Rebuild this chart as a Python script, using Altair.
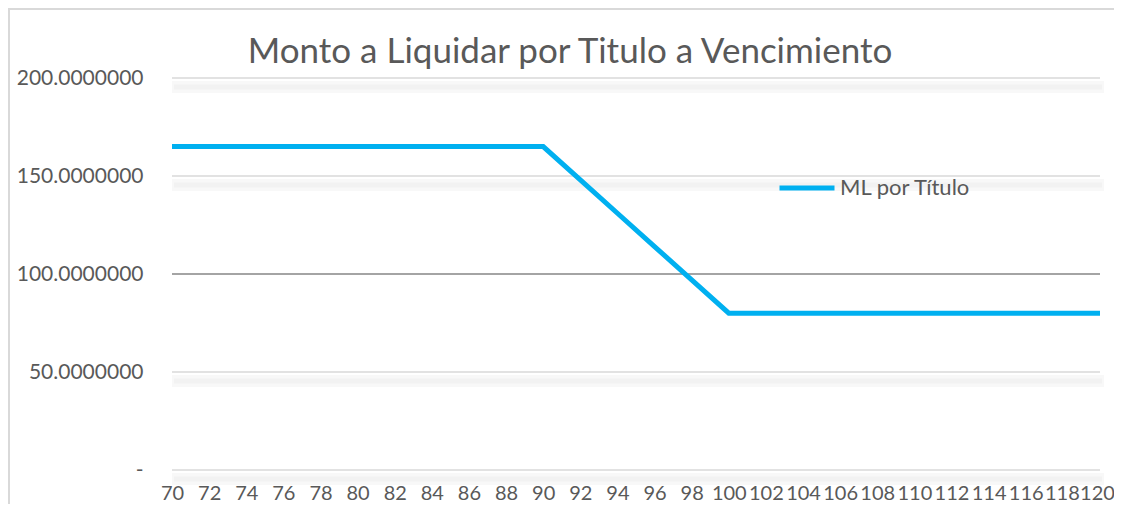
import altair as alt
import pandas as pd

# Data
x_values = [70, 72, 74, 76, 78, 80, 82, 84, 86, 88, 90, 92, 94, 96, 98,
            100, 102, 104, 106, 108, 110, 112, 114, 116, 118, 120]
ml_values = [165, 165, 165, 165, 165, 165, 165, 165, 165, 165, 165,
             148, 131, 114, 97, 80,
             80, 80, 80, 80, 80, 80, 80, 80, 80, 80]
series_name = "ML por Título"
grid_values = [0, 50, 100, 150, 200]
grid_kind = ["light", "light", "dark", "light", "light"]
title_text = "Monto a Liquidar por Titulo a Vencimiento"

FONT = "Lato"
TXT = "#595959"

df = pd.DataFrame({"x": x_values, "y": ml_values, "serie": [series_name] * len(x_values)})
grid_df = pd.DataFrame({"g": grid_values, "kind": grid_kind})

xscale = alt.Scale(domain=[70, 120], nice=False, zero=False)
yscale = alt.Scale(domain=[0, 200], nice=False)

yaxis = alt.Axis(values=grid_values, ticks=False, domain=False, grid=False,
                 labelPadding=29, labelFontSize=21, labelFont=FONT, labelColor=TXT,
                 labelExpr="datum.value == 0 ? '-\u00a0\u00a0\u00a0' : format(datum.value, '.7f')")
xaxis = alt.Axis(values=x_values, labelFlush=False, labelOverlap=False, ticks=False,
                 domain=False, grid=False, labelPadding=13, labelFontSize=20,
                 labelFont=FONT, labelColor=TXT,
                 labelOffset={"condition": [{"test": "datum.value == 120", "value": -3},
                                            {"test": "datum.value == 118", "value": -1}],
                              "value": 0})

frame_df = pd.DataFrame({"a": [0]})
frame_left = alt.Chart(frame_df).mark_rule(stroke="#d9d9d9", strokeWidth=2).encode(
    x=alt.value(-163), y=alt.value(-69), y2=alt.value(700)
)
frame_top = alt.Chart(frame_df).mark_rule(stroke="#d9d9d9", strokeWidth=2).encode(
    x=alt.value(-164), x2=alt.value(942), y=alt.value(-69)
)

title = alt.Chart(pd.DataFrame({"t": [title_text]})).mark_text(
    font=FONT, fontSize=35, color=TXT, align="center", baseline="alphabetic"
).encode(text="t:N", x=alt.value(398), y=alt.value(-15))

shadow_wide = alt.Chart(grid_df).transform_filter(alt.datum.kind == "light").mark_rule(
    stroke="#f8f8f8", strokeWidth=12, yOffset=9
).encode(
    y=alt.Y("g:Q", scale=yscale, axis=yaxis, title=None),
    x=alt.value(0), x2=alt.value(932),
)
shadow_core = alt.Chart(grid_df).transform_filter(alt.datum.kind == "light").mark_rule(
    stroke="#f2f2f2", strokeWidth=5, yOffset=9
).encode(
    y=alt.Y("g:Q", scale=yscale, axis=yaxis, title=None),
    x=alt.value(2), x2=alt.value(930),
)

grid = alt.Chart(grid_df).mark_rule(strokeWidth=1.3).encode(
    y=alt.Y("g:Q", scale=yscale, axis=yaxis, title=None),
    x=alt.value(0), x2=alt.value(928),
    color=alt.Color("kind:N", scale=alt.Scale(domain=["light", "dark"], range=["#d9d9d9", "#868686"]), legend=None),
)

line = alt.Chart(df).mark_line(strokeWidth=5).encode(
    x=alt.X("x:Q", scale=xscale, title=None, axis=xaxis),
    y=alt.Y("y:Q", scale=yscale, title=None, axis=yaxis),
    color=alt.Color("serie:N", scale=alt.Scale(domain=[series_name], range=["#00B0F0"]),
                    legend=alt.Legend(title=None, orient="none", legendX=605, legendY=80,
                                      symbolType="stroke", symbolStrokeWidth=5, symbolSize=3025,
                                      labelFontSize=22, labelFont=FONT, labelColor=TXT,
                                      labelOffset=3, padding=0)),
)

chart = alt.layer(frame_left, frame_top, title, shadow_wide, shadow_core, grid, line).resolve_scale(color="independent").properties(
    width=928, height=392,
    autosize=alt.AutoSizeParams(type="none"),
    padding={"left": 164, "top": 70, "right": 14, "bottom": 34},
    background="white",
).configure_view(stroke=None)

chart.save("out.html", embed_options={"renderer": "svg", "actions": False})
